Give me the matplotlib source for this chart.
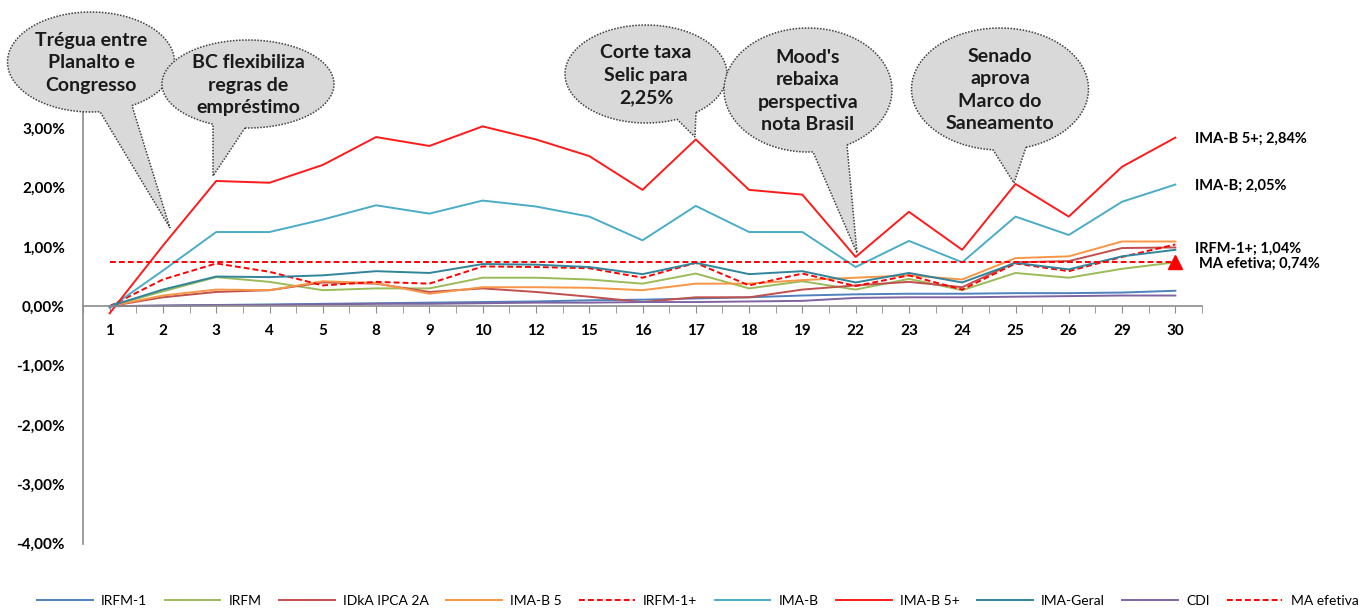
import numpy as np
import matplotlib
matplotlib.use("Agg")
import matplotlib.pyplot as plt
from matplotlib.patches import Polygon
from matplotlib.transforms import IdentityTransform
from matplotlib.ticker import FuncFormatter, FixedLocator

plt.rcParams['font.family'] = ['Lato', 'DejaVu Sans']

# dias uteis do mes
dias = ['1', '2', '3', '4', '5', '8', '9', '10', '12', '15', '16', '17', '18', '19',
        '22', '23', '24', '25', '26', '29', '30']

# rentabilidade acumulada (%)
irfm1 = [0.00, 0.01, 0.02, 0.03, 0.04, 0.05, 0.06, 0.07, 0.08, 0.10, 0.11, 0.13, 0.15, 0.18,
         0.20, 0.21, 0.21, 0.22, 0.22, 0.23, 0.26]
irfm = [0.00, 0.25, 0.49, 0.41, 0.27, 0.30, 0.30, 0.48, 0.48, 0.45, 0.38, 0.55, 0.30, 0.42,
        0.28, 0.46, 0.27, 0.56, 0.48, 0.63, 0.74]
idka = [0.00, 0.15, 0.24, 0.27, 0.40, 0.38, 0.24, 0.30, 0.24, 0.16, 0.07, 0.15, 0.15, 0.28,
        0.35, 0.41, 0.32, 0.74, 0.76, 0.98, 0.99]
imab5 = [0.00, 0.18, 0.28, 0.27, 0.42, 0.39, 0.21, 0.32, 0.32, 0.31, 0.27, 0.38, 0.38, 0.44,
         0.48, 0.52, 0.45, 0.81, 0.84, 1.09, 1.09]
irfm1p = [0.00, 0.45, 0.72, 0.58, 0.35, 0.41, 0.38, 0.67, 0.66, 0.64, 0.48, 0.73, 0.35, 0.55,
          0.34, 0.52, 0.28, 0.72, 0.59, 0.83, 1.04]
imab = [-0.03, 0.60, 1.25, 1.25, 1.46, 1.70, 1.56, 1.78, 1.68, 1.51, 1.11, 1.69, 1.25, 1.25,
        0.66, 1.10, 0.74, 1.51, 1.20, 1.76, 2.05]
imab5p = [-0.12, 1.02, 2.11, 2.08, 2.38, 2.85, 2.70, 3.03, 2.81, 2.53, 1.96, 2.81, 1.96, 1.88,
          0.83, 1.59, 0.95, 2.06, 1.51, 2.35, 2.84]
imageral = [0.00, 0.28, 0.50, 0.49, 0.52, 0.59, 0.56, 0.71, 0.70, 0.66, 0.54, 0.73, 0.54, 0.59,
            0.40, 0.56, 0.40, 0.73, 0.62, 0.84, 0.95]
cdi = [0.00, 0.01, 0.02, 0.02, 0.03, 0.04, 0.04, 0.05, 0.06, 0.06, 0.07, 0.07, 0.08, 0.09,
       0.14, 0.15, 0.15, 0.16, 0.17, 0.18, 0.18]
ma_efetiva = [0.74] * len(dias)

eventos = ['Trégua entre\nPlanalto e\nCongresso',
           'BC flexibiliza\nregras de\nempréstimo',
           'Corte taxa\nSelic para\n2,25%',
           "Mood's\nrebaixa\nperspectiva\nnota Brasil",
           'Senado\naprova\nMarco do\nSaneamento']

W, H = 1363, 609
fig = plt.figure(figsize=(W / 100, H / 100), dpi=100)
ax = fig.add_axes([83 / W, 1 - 543.6 / H, (1202 - 83) / W, (543.6 - 68.8) / H])

x = np.arange(len(dias))
dash = (0, (3, 1.6))
series = [
    ('IRFM-1', irfm1, '#4f81bd', '-'),
    ('IRFM', irfm, '#9bbb59', '-'),
    ('IDkA IPCA 2A', idka, '#c0504d', '-'),
    ('IMA-B 5', imab5, '#f79646', '-'),
    ('IRFM-1+', irfm1p, '#ff0000', dash),
    ('IMA-B', imab, '#4bacc6', '-'),
    ('IMA-B 5+', imab5p, '#ff1a1a', '-'),
    ('IMA-Geral', imageral, '#31849b', '-'),
    ('CDI', cdi, '#8064a2', '-'),
    ('MA efetiva', ma_efetiva, '#ff0000', dash),
]
for nome, vals, cor, ls in series:
    ax.plot(x, vals, color=cor, linestyle=ls, lw=1.4, label=nome, clip_on=False)
ax.plot(x[-1], ma_efetiva[-1], marker='^', color='#ff0000', ms=10, ls='none', clip_on=False)


def fmt_pct(v, p=None):
    if v > 3.5:  # fica escondido atras do balao
        return ''
    return ('%.2f%%' % v).replace('.', ',')


ax.set_xlim(-0.5, len(dias) - 0.5)
ax.set_ylim(-4, 4)
ax.yaxis.set_major_locator(FixedLocator(np.arange(-4, 4.01, 1)))
ax.yaxis.set_major_formatter(FuncFormatter(fmt_pct))
ax.set_xticks(x)
ax.set_xticklabels(dias)
ax.set_xticks(np.arange(-0.5, len(dias), 1), minor=True)
ax.spines['bottom'].set_position(('data', 0))
for s in ['top', 'right']:
    ax.spines[s].set_visible(False)
for s in ['left', 'bottom']:
    ax.spines[s].set_color('#8c8c8c')
    ax.spines[s].set_linewidth(1.2)
ax.tick_params(axis='x', which='both', length=5, color='#8c8c8c', direction='out', pad=8,
               labelsize=11)
ax.tick_params(axis='y', length=0, pad=13, labelsize=11)
for t in ax.get_xticklabels() + ax.get_yticklabels():
    t.set_fontweight('bold')

# rotulos finais
for nome, vals, dy in [('IMA-B 5+', imab5p, -1), ('IMA-B', imab, -1), ('IRFM-1+', irfm1p, -3)]:
    ax.annotate('%s; %s' % (nome, fmt_pct(vals[-1])), (x[-1], vals[-1]),
                xytext=(14, dy), textcoords='offset points', va='center', ha='left',
                fontsize=10.5, fontweight='bold', annotation_clip=False)
ax.annotate('MA efetiva; %s' % fmt_pct(ma_efetiva[-1]),
            (x[-1], ma_efetiva[-1]), xytext=(17, -1), textcoords='offset points',
            va='center', ha='left', fontsize=10.5, fontweight='bold', annotation_clip=False)

# baloes (pixels na imagem: cx, cy, w, h, base esq, base dir, ponta)
baloes = [
    (91, 62, 167, 100, 100, 132, (170, 228)),
    (248, 84, 172, 88, 213, 245, (213, 176)),
    (646, 74, 162, 98, 677, 696, (695, 137)),
    (808, 90, 168, 124, 813, 847, (857, 253)),
    (1000, 89, 177, 122, 993, 1026, (1014, 183)),
]
for (cx, cy, w, h, xl, xr, tip), txt in zip(baloes, eventos):
    a, b = w / 2, h / 2
    tl = -np.arccos((xl - cx) / a)
    tr = -np.arccos((xr - cx) / a)
    th = np.linspace(tr, tl + 2 * np.pi, 200)
    pts = [(cx + a * np.cos(t), H - cy + b * np.sin(t)) for t in th]
    pts.append((tip[0], H - tip[1]))
    fig.add_artist(Polygon(pts, closed=True, transform=IdentityTransform(), facecolor='#d9d9d9',
                           edgecolor='#3f3f3f', linestyle=(0, (1, 1)), lw=1.1, zorder=5))
    fig.text(cx / W, 1 - (cy + 1) / H, txt, ha='center', va='center', fontsize=14,
             fontweight='bold', linespacing=1.4, zorder=6, color='#1a1a1a')

fig.legend(loc='center', bbox_to_anchor=(0.512, 0.013), ncol=10, frameon=False, fontsize=10,
           handlelength=4.0, columnspacing=1.25, handletextpad=0.6)

fig.savefig('out.png', dpi=100)
